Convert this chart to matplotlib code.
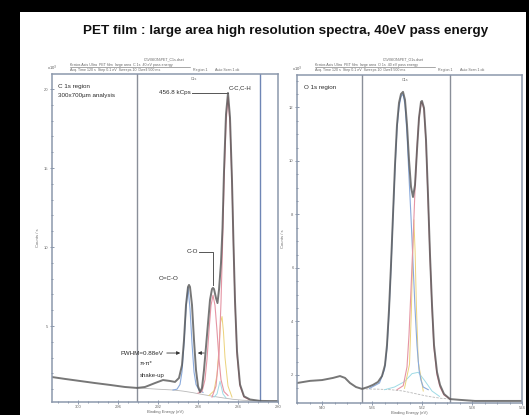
import numpy as np
import matplotlib.pyplot as plt
from matplotlib.patches import Rectangle
from matplotlib.lines import Line2D

W, H = 529, 415

# ---- C 1s region (binding energy eV, counts x10^3) ----
c1s_be = [302.6, 301.3, 299.8, 298.3, 296.8, 295.3, 294.1, 293.3, 292.3, 291.5,
          290.8, 290.3, 289.9, 289.6, 289.4, 289.2, 289.0, 288.9, 288.8, 288.6,
          288.4, 288.2, 288.0, 287.8, 287.6, 287.4, 287.1, 286.8, 286.6, 286.5,
          286.4, 286.2, 286.05, 285.9, 285.7, 285.55, 285.4, 285.2, 285.0, 284.8,
          284.6, 284.45, 284.3, 284.1, 283.8, 283.4, 282.8, 281.8, 280.8, 280.0]
c1s_env = [1.77, 1.65, 1.52, 1.39, 1.27, 1.14, 1.08, 1.14, 1.39, 1.58,
           1.52, 1.46, 1.71, 2.53, 4.11, 6.33, 7.47, 7.60, 7.47, 6.33,
           4.11, 2.22, 1.20, 0.82, 1.08, 2.22, 4.43, 6.65, 7.34, 7.41,
           7.34, 6.77, 6.45, 7.30, 9.00, 11.2, 14.8, 18.4, 19.75, 18.2,
           14.2, 10.2, 6.6, 3.4, 1.3, 0.55, 0.35, 0.26, 0.25, 0.25]

c1s_bg_be = [294.1, 292.0, 290.5, 289.5, 288.5, 287.5, 286.5, 285.5, 284.5, 283.5, 281.8]
c1s_bg = [1.08, 1.0, 0.95, 0.88, 0.78, 0.66, 0.55, 0.45, 0.36, 0.3, 0.27]

oco_be = [290.5, 290.1, 289.8, 289.6, 289.4, 289.2, 289.0, 288.8, 288.6, 288.4, 288.2, 287.9, 287.5]
oco_y = [0.95, 1.0, 1.3, 2.1, 3.9, 6.1, 7.45, 6.1, 3.9, 2.1, 1.3, 0.95, 0.8]

co_be = [288.0, 287.6, 287.3, 287.1, 286.9, 286.7, 286.5, 286.3, 286.1, 285.9, 285.7, 285.4, 285.0]
co_y = [0.75, 0.85, 1.6, 2.9, 4.7, 6.3, 6.95, 6.3, 4.7, 2.9, 1.6, 0.85, 0.6]

cc_be = [286.6, 286.2, 285.9, 285.7, 285.55, 285.4, 285.2, 285.0,
         284.8, 284.6, 284.45, 284.3, 284.1, 283.8, 283.4, 282.9]
cc_y = [0.5, 1.2, 3.2, 6.5, 10.0, 14.0, 17.8, 19.5,
        17.8, 14.0, 10.0, 6.5, 3.2, 1.2, 0.5, 0.35]

c_ylw_be = [286.9, 286.4, 286.1, 285.9, 285.75, 285.6, 285.45, 285.3, 285.0, 284.6]
c_ylw_y = [0.6, 0.9, 1.9, 3.6, 5.2, 5.6, 4.6, 3.0, 1.2, 0.5]

c_cyn_be = [286.4, 286.1, 285.95, 285.8, 285.65, 285.5, 285.2]
c_cyn_y = [0.5, 0.7, 1.1, 1.5, 1.1, 0.7, 0.45]

# ---- O 1s region ----
o1s_be = [542.0, 540.96, 540.0, 539.12, 538.56, 538.16, 537.76, 537.28, 536.8, 536.32,
          535.92, 535.52, 535.2, 534.96, 534.8, 534.64, 534.48, 534.32, 534.16, 534.0,
          533.84, 533.68, 533.52, 533.36, 533.2, 533.04, 532.88, 532.72, 532.56, 532.4,
          532.24, 532.08, 532.0, 531.84, 531.68, 531.52, 531.36, 531.2, 531.04, 530.8,
          530.56, 530.24, 529.76, 528.96, 527.76, 525.76, 524.0]
o1s_env = [1.70, 1.78, 1.81, 1.89, 1.96, 1.89, 1.70, 1.55, 1.48, 1.55,
           1.63, 1.74, 1.96, 2.37, 3.12, 4.43, 6.11, 7.98, 9.85, 11.35,
           12.17, 12.50, 12.58, 12.28, 11.35, 10.04, 9.03, 8.65, 9.10, 10.41,
           11.61, 12.21, 12.24, 11.98, 10.79, 8.73, 6.49, 4.62, 3.12, 2.11,
           1.63, 1.29, 1.10, 1.07, 1.03, 1.03, 1.03]

o1s_bg_be = [536.8, 535.5, 534.5, 533.5, 532.5, 531.5, 530.5, 529.76]
o1s_bg = [1.48, 1.47, 1.45, 1.40, 1.30, 1.20, 1.13, 1.10]

oc_be = [536.2, 535.4, 535.0, 534.8, 534.64, 534.48, 534.32, 534.16, 534.0, 533.84, 533.68, 533.52,
         533.36, 533.2, 533.04, 532.88, 532.72, 532.56, 532.4, 532.24, 532.08, 531.9, 531.5]
oc_y = [1.5, 1.7, 2.2, 3.0, 4.3, 6.0, 7.9, 9.7, 11.2, 12.0, 12.4, 12.5,
        12.1, 11.0, 9.4, 7.9, 6.2, 4.5, 3.1, 2.2, 1.8, 1.55, 1.45]

od_be = [534.0, 533.5, 533.2, 533.04, 532.88, 532.72, 532.56, 532.4, 532.24, 532.08, 532.0,
         531.84, 531.68, 531.52, 531.36, 531.2, 531.04, 530.8, 530.56, 530.24, 529.76]
od_y = [1.45, 1.6, 2.3, 3.5, 5.2, 7.0, 8.9, 10.5, 11.6, 12.15, 12.2,
        11.9, 10.7, 8.6, 6.4, 4.5, 3.0, 2.0, 1.55, 1.25, 1.1]

o_ylw_be = [533.4, 533.0, 532.85, 532.75, 532.65, 532.55, 532.45, 532.3, 531.9]
o_ylw_y = [1.5, 2.4, 4.4, 6.4, 7.8, 6.6, 4.6, 2.5, 1.4]

o_cyn_be = [535.0, 534.2, 533.4, 532.8, 532.3, 531.8, 531.2, 530.6]
o_cyn_y = [1.45, 1.55, 1.75, 2.05, 2.1, 1.8, 1.4, 1.2]

c1s_ticks = [300, 296, 292, 288, 284, 280]
c1s_yticks = [5, 10, 15, 20]
o1s_ticks = [540, 536, 532, 528, 524]
o1s_yticks = [2, 4, 6, 8, 10, 12]

plt.rcParams['font.family'] = ['Liberation Sans', 'DejaVu Sans']

FRAME = '#8c98ac'
ENV = '#555555'
BLUE = '#8aaadc'
PINK = '#e595a4'
YLW = '#ecd27a'
CYN = '#9fdbe6'
BG = '#b8b8b8'
TXT = '#2a2a2a'


def box(x0, y0, x1, y1):
    return [x0 / W, 1 - y1 / H, (x1 - x0) / W, (y1 - y0) / H]


def fx(p):
    return p / W


def fy(p):
    return 1 - p / H


fig = plt.figure(figsize=(W / 100, H / 100), dpi=100, facecolor='black')
fig.add_artist(Rectangle((fx(20), 0), fx(526) - fx(20), fy(12), transform=fig.transFigure,
                         facecolor='white', edgecolor='none', zorder=0))

fig.text(fx(286), fy(31), 'PET film : large area high resolution spectra, 40eV pass energy',
         ha='center', va='center', fontsize=9.7, fontweight='bold', color='#111111')


def style(ax, xlim, ylim, xt, yt):
    ax.set_xlim(*xlim)
    ax.set_ylim(*ylim)
    ax.set_xticks(xt)
    ax.set_yticks(yt)
    ax.set_xticklabels([str(v) for v in xt])
    ax.set_yticklabels([str(v) for v in yt])
    ax.minorticks_on()
    for s in ax.spines.values():
        s.set_color(FRAME)
        s.set_linewidth(1.1)
    ax.tick_params(which='both', direction='inout', colors=FRAME, labelcolor='#666666',
                   labelsize=3, pad=1, length=3, width=0.7)
    ax.tick_params(which='minor', length=1.5)
    ax.set_xlabel('Binding Energy (eV)', fontsize=3, labelpad=0.5, color='#666666')
    ax.set_ylabel('Counts / s', fontsize=3, labelpad=3, color='#666666')
    ax.text(0, 1.003, 'x10$^3$', transform=ax.transAxes, fontsize=3, ha='center',
            va='bottom', color='#555555')


def header(xc, xl, name, region):
    c = '#666666'
    fig.text(fx(xc), fy(59), name, ha='center', va='center', fontsize=2.6, color=c)
    fig.text(fx(xl), fy(65), 'Kratos Axis Ultra  PET film  large area  ' + region +
             '  40 eV pass energy', ha='left', va='center', fontsize=2.6, color=c)
    fig.add_artist(Line2D([fx(xl), fx(xl + 120)], [fy(67.5), fy(67.5)], lw=0.4, color=c,
                          transform=fig.transFigure))
    fig.text(fx(xl), fy(70), 'Acq. Time 120 s  Step 0.1 eV  Sweeps 10  Dwell 500 ms',
             ha='left', va='center', fontsize=2.6, color=c)
    fig.text(fx(xl + 123), fy(70), 'Region 1', ha='left', va='center', fontsize=2.6, color=c)
    fig.text(fx(xl + 145), fy(70), 'Auto Scan 1 ok', ha='left', va='center', fontsize=2.6, color=c)


# ---- left panel: C 1s ----
ax1 = fig.add_axes(box(52, 74, 278, 402))
style(ax1, (302.6, 280.0), (0.19, 20.95), c1s_ticks, c1s_yticks)
ax1.axvline(294.1, color='#8a8f99', lw=1.0)
ax1.axvline(281.8, color='#6f86b5', lw=1.0)
ax1.plot(c1s_bg_be, c1s_bg, color=BG, lw=0.6)
ax1.plot(c_cyn_be, c_cyn_y, color=CYN, lw=0.7)
ax1.plot(c_ylw_be, c_ylw_y, color=YLW, lw=0.7)
ax1.plot(oco_be, oco_y, color=BLUE, lw=0.8)
ax1.plot(co_be, co_y, color=PINK, lw=0.8)
ax1.plot(cc_be, cc_y, color=PINK, lw=0.8)
ax1.plot(c1s_be, c1s_env, color=ENV, lw=1.4, alpha=0.8)
ax1.text(0.028, 0.963, 'C 1s region', transform=ax1.transAxes, fontsize=4.5, va='center', color=TXT)
ax1.text(0.028, 0.935, '300x700\u00b5m analysis', transform=ax1.transAxes, fontsize=4.5,
         va='center', color=TXT)
ax1.text(288.7, 19.75, '456.8 kCps', fontsize=4.5, ha='right', va='center', color=TXT)
ax1.plot([288.6, 285.05], [19.75, 19.75], color='#555555', lw=0.7)
ax1.text(284.9, 20.1, 'C-C,C-H', fontsize=4.3, ha='left', va='center', color=TXT)
ax1.text(288.0, 9.69, 'C-O', fontsize=4.5, ha='right', va='center', color=TXT)
ax1.plot([287.9, 286.5, 286.5], [9.69, 9.69, 7.6], color='#555555', lw=0.7)
ax1.text(289.95, 7.98, 'O=C-O', fontsize=4.5, ha='right', va='center', color=TXT)
ax1.text(291.5, 3.29, 'FWHM=0.88eV', fontsize=4.5, ha='right', va='center', color=TXT)
ax1.annotate('', xy=(289.5, 3.29), xytext=(291.4, 3.29),
             arrowprops=dict(arrowstyle='-|>', color='#333333', lw=0.6, mutation_scale=5))
ax1.annotate('', xy=(288.3, 3.29), xytext=(287.1, 3.29),
             arrowprops=dict(arrowstyle='-|>', color='#333333', lw=0.6, mutation_scale=5))
ax1.text(293.8, 2.6, '\u03c0-\u03c0*', fontsize=4.3, ha='left', va='center', color=TXT)
ax1.text(293.8, 1.85, 'shake-up', fontsize=4.3, ha='left', va='center', color=TXT)
ax1.text(0.63, 0.99, 'C1s', transform=ax1.transAxes, fontsize=2.6, ha='center', va='top', color='#666666')
header(164, 70, 'C:\\VISION\\PET_C1s.dset', 'C 1s')

# ---- right panel: O 1s ----
ax2 = fig.add_axes(box(297, 75, 522, 403))
style(ax2, (542.0, 524.0), (0.953, 13.21), o1s_ticks, o1s_yticks)
ax2.axvline(536.8, color='#8a8f99', lw=1.0)
ax2.axvline(529.76, color='#8a8f99', lw=1.0)
ax2.plot(o1s_bg_be, o1s_bg, color=BG, lw=0.6, ls=(0, (3, 1.5)))
ax2.plot(o_cyn_be, o_cyn_y, color=CYN, lw=0.7)
ax2.plot(o_ylw_be, o_ylw_y, color=YLW, lw=0.7)
ax2.plot(oc_be, oc_y, color=BLUE, lw=0.8)
ax2.plot(od_be, od_y, color=PINK, lw=0.8)
ax2.plot(o1s_be, o1s_env, color=ENV, lw=1.4, alpha=0.8)
ax2.text(0.03, 0.963, 'O 1s region', transform=ax2.transAxes, fontsize=4.5, va='center', color=TXT)
ax2.text(0.48, 0.99, 'O1s', transform=ax2.transAxes, fontsize=2.6, ha='center', va='top', color='#666666')
header(403, 315, 'C:\\VISION\\PET_O1s.dset', 'O 1s')

fig.savefig('out.png', dpi=100, facecolor='black')
